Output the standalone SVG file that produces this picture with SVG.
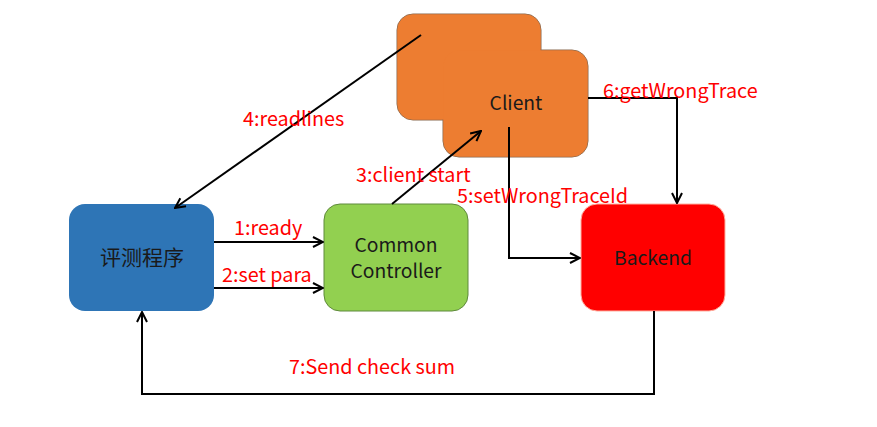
<svg xmlns="http://www.w3.org/2000/svg" width="877" height="427" viewBox="0 0 877 427">
<style>
.lbl{font-family:"Noto Sans CJK SC","Noto Sans",sans-serif;font-size:19.8px;fill:#FF0000}
.ntx{font-family:"Noto Sans CJK SC","Noto Sans",sans-serif;font-size:19.3px;fill:#1a1a1a;text-anchor:middle}
.c{fill:none;stroke:#000;stroke-width:2}
</style>
<defs>
<marker id="ah" viewBox="0 0 12 12" refX="11" refY="6" markerWidth="12" markerHeight="12" markerUnits="userSpaceOnUse" orient="auto">
<path d="M1,1 L11,6 L1,11" fill="none" stroke="#000" stroke-width="2"/>
</marker>
</defs>
<rect width="877" height="427" fill="#fff"/>
<g id="client">
<rect x="397" y="14" width="144" height="106" rx="16" fill="#ED7D31" stroke="#8a6a50" stroke-width="1"/>
<rect x="443" y="50" width="145" height="107" rx="16" fill="#ED7D31" stroke="#8a6a50" stroke-width="1"/>
<rect x="397.5" y="14.5" width="143" height="105" rx="15.5" fill="#ED7D31"/>
<rect x="443.5" y="50.5" width="144" height="106" rx="15.5" fill="#ED7D31"/>
<text class="ntx" x="516" y="110">Client</text>
</g>
<g id="pingce">
<rect x="69" y="204" width="145" height="107" rx="16" fill="#2E75B6"/>
<text class="ntx" x="142" y="265" style="font-size:21px">评测程序</text>
</g>
<g id="controller">
<rect x="324" y="204" width="144" height="107" rx="16" fill="#92D050" stroke="#5f8a3c" stroke-width="1"/>
<text class="ntx" x="396" y="252">Common</text>
<text class="ntx" x="396" y="278">Controller</text>
</g>
<g id="backend">
<rect x="581" y="204" width="144" height="107" rx="16" fill="#FF0000" stroke="#ffb0a0" stroke-width="1"/>
<text class="ntx" x="653" y="265">Backend</text>
</g>
<g id="connectors">
<line class="c" x1="214" y1="242" x2="323" y2="242" marker-end="url(#ah)"/>
<line class="c" x1="214" y1="288" x2="323" y2="288" marker-end="url(#ah)"/>
<line class="c" x1="392" y1="204" x2="481" y2="131" marker-end="url(#ah)"/>
<line class="c" x1="421" y1="35" x2="175" y2="208" marker-end="url(#ah)"/>
<polyline class="c" points="509,127 509,258 580,258" marker-end="url(#ah)"/>
<polyline class="c" points="588,98 677,98 677,203" marker-end="url(#ah)"/>
<polyline class="c" points="654,311 654,394 142,394 142,312" marker-end="url(#ah)"/>
</g>
<g id="labels">
<text class="lbl" x="234" y="235">1:ready</text>
<text class="lbl" x="222" y="282">2:set para</text>
<text class="lbl" x="356" y="182">3:client start</text>
<text class="lbl" x="243" y="126">4:readlines</text>
<text class="lbl" x="457" y="203">5:setWrongTraceId</text>
<text class="lbl" x="603" y="98">6:getWrongTrace</text>
<text class="lbl" x="289" y="374">7:Send check sum</text>
</g>
</svg>
